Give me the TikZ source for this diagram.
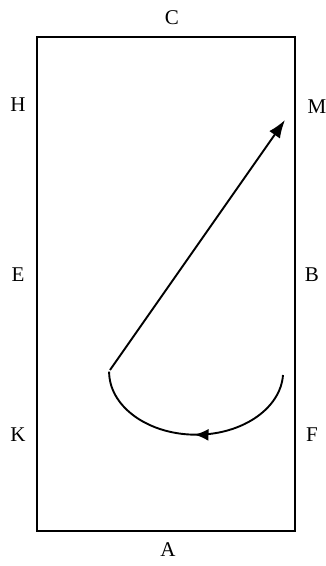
\documentclass[tikz,border=0pt]{standalone}
\usepackage{fontspec}
\setmainfont{Liberation Serif}
\usetikzlibrary{arrows.meta,decorations.markings}

\begin{document}
\begin{tikzpicture}[
    x=1pt,y=1pt,
    letter/.style={font=\fontsize{21}{24}\selectfont, inner sep=0pt},
    arena/.style={draw=black, line width=2pt},
    track/.style={line width=1.9pt, draw=black},
    arrow/.style={track, -{Latex[length=18pt,width=13pt]}},
    midarrow/.style={track, decoration={markings, mark=at position 0.5 with {\arrow{Latex[length=14pt,width=12pt]}}}, postaction={decorate}}
  ]
    \useasboundingbox (0,0) rectangle (326,566);
    \draw[arena] (37,35) rectangle (295,529);
    \foreach \x/\y/\name/\lab in {172/548/c/C,168/16/a/A,18/461/h/H,18/291/e/E,18/131/k/K,317/459/m/M,312/291/b/B,312/131/f/F} {
      \node[letter] (\name) at (\x,\y) {\lab};
    }
    \coordinate (start) at (283,191);
    \coordinate (pivot) at (110,196);
    \coordinate (tip) at (285,446);
    \draw[midarrow] (start) arc[start angle=-3, end angle=-180, x radius=87, y radius=63];
    \draw[arrow] (pivot) -- (tip);
  \end{tikzpicture}
\end{document}
